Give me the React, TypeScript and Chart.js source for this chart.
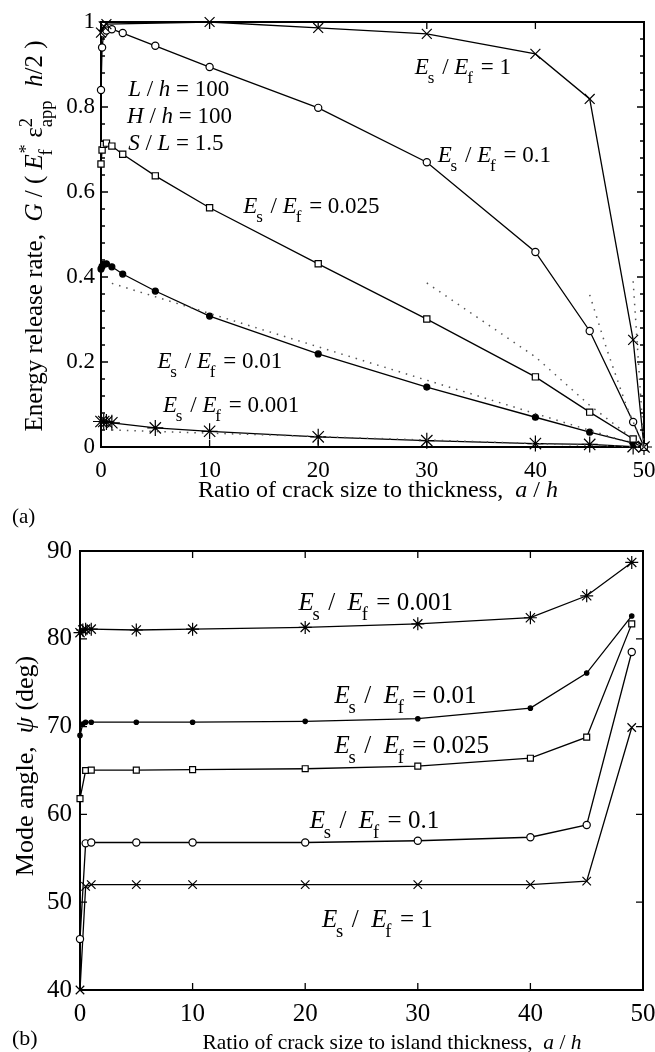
import React, { useEffect, useRef } from 'react';
import { Chart, registerables } from 'chart.js';

Chart.register(...registerables);

const FONT = "'Liberation Serif', 'Times New Roman', Times, serif";

// ---------- Panel (a): energy release rate ----------
const aX1 = [0, 0.25, 0.5, 10, 20, 30, 40, 45, 49, 50];
const aY1 = [0.975, 0.99, 0.995, 1.0, 0.986, 0.972, 0.925, 0.819, 0.252, 0];
const aX01 = [0, 0.1, 0.25, 0.5, 1, 2, 5, 10, 20, 30, 40, 45, 49, 50];
const aY01 = [0.84, 0.94, 0.973, 0.98, 0.983, 0.974, 0.944, 0.894, 0.798, 0.67, 0.459, 0.273, 0.059, 0];
const aX0025 = [0, 0.1, 0.25, 0.5, 1, 2, 5, 10, 20, 30, 40, 45, 49, 50];
const aY0025 = [0.666, 0.699, 0.712, 0.715, 0.708, 0.689, 0.638, 0.563, 0.431, 0.301, 0.165, 0.082, 0.019, 0];
const aX001 = [0, 0.1, 0.25, 0.5, 1, 2, 5, 10, 20, 30, 40, 45, 49, 50];
const aY001 = [0.419, 0.425, 0.43, 0.431, 0.424, 0.407, 0.367, 0.308, 0.219, 0.141, 0.07, 0.035, 0.009, 0];
const aX0001 = [0, 0.25, 0.5, 1, 5, 10, 20, 30, 40, 45, 49, 50];
const aY0001 = [0.06, 0.06, 0.059, 0.057, 0.045, 0.037, 0.024, 0.015, 0.008, 0.006, 0.001, 0];

// dotted (approximate) curves
const dX001 = [1, 50];
const dY001 = [0.385, 0];
const dX0001 = [1, 50];
const dY0001 = [0.04, 0];
const dX0025 = [30, 40, 45, 50];
const dY0025 = [0.386, 0.212, 0.098, 0];
const dX01 = [45, 46.6, 48.4, 50];
const dY01 = [0.358, 0.228, 0.095, 0];
const dX1 = [49, 50];
const dY1 = [0.39, 0];

const aXTicks = [0, 10, 20, 30, 40, 50];
const aYTicks = [0, 0.2, 0.4, 0.6, 0.8, 1];

// ---------- Panel (b): mode angle ----------
const bX0001 = [0, 0.25, 0.5, 1, 5, 10, 20, 30, 40, 45, 49];
const bY0001 = [80.7, 81.0, 81.1, 81.1, 81.0, 81.1, 81.3, 81.7, 82.4, 84.9, 88.7];
const bX001 = [0, 0.25, 0.5, 1, 5, 10, 20, 30, 40, 45, 49];
const bY001 = [69.0, 70.3, 70.5, 70.5, 70.5, 70.5, 70.6, 70.9, 72.1, 76.1, 82.6];
const bX0025 = [0, 0.5, 1, 5, 10, 20, 30, 40, 45, 49];
const bY0025 = [61.8, 65.0, 65.05, 65.05, 65.1, 65.2, 65.5, 66.4, 68.8, 81.7];
const bX01 = [0, 0.5, 1, 5, 10, 20, 30, 40, 45, 49];
const bY01 = [45.8, 56.7, 56.8, 56.8, 56.8, 56.8, 57.0, 57.4, 58.8, 78.5];
const bX1 = [0, 0.5, 1, 5, 10, 20, 30, 40, 45, 49];
const bY1 = [40, 51.8, 52.0, 52.0, 52.0, 52.0, 52.0, 52.0, 52.4, 69.9];

const bXTicks = [0, 10, 20, 30, 40, 50];
const bYTicks = [40, 50, 60, 70, 80, 90];

// ---------- rich text ----------
type Seg = { t: string; it?: boolean; sub?: string; sup?: string };

function fontOf(it: boolean, size: number) {
  return `${it ? 'italic ' : ''}${size}px ${FONT}`;
}

function drawRich(
  ctx: CanvasRenderingContext2D,
  segs: Seg[],
  x: number,
  y: number,
  size: number,
  align: 'left' | 'center' = 'left'
) {
  const small = size * 0.74;
  const widths = segs.map((s) => {
    ctx.font = fontOf(!!s.it, size);
    let w = ctx.measureText(s.t).width;
    if (s.sub || s.sup) {
      ctx.font = fontOf(false, small);
      const ws = s.sub ? ctx.measureText(s.sub).width : 0;
      const wp = s.sup ? ctx.measureText(s.sup).width : 0;
      w += Math.max(ws, wp) + size * 0.04;
    }
    return w;
  });
  const total = widths.reduce((p, c) => p + c, 0);
  let cx = align === 'center' ? x - total / 2 : x;
  ctx.textAlign = 'left';
  ctx.textBaseline = 'alphabetic';
  ctx.fillStyle = '#000';
  segs.forEach((s, i) => {
    ctx.font = fontOf(!!s.it, size);
    ctx.fillText(s.t, cx, y);
    const bw = ctx.measureText(s.t).width;
    ctx.font = fontOf(false, small);
    if (s.sub) ctx.fillText(s.sub, cx + bw - (s.it ? size * 0.05 : 0), y + size * 0.4);
    if (s.sup) ctx.fillText(s.sup, cx + bw + (s.it ? size * 0.03 : 0), y - size * 0.42);
    cx += widths[i];
  });
}

const ratio = (val: string, wide = false): Seg[] => [
  { t: 'E', it: true, sub: 's' },
  { t: wide ? ' /  ' : ' / ' },
  { t: 'E', it: true, sub: 'f' },
  { t: ' = ' + val },
];

type Note = { x: number; y: number; segs: Seg[] };

type PanelCfg = {
  xTicks: number[];
  yTicks: number[];
  yMinorStep: number;
  tickLen: number;
  minorLen: number;
  frameW: number;
  notes: Note[];
  noteSize: number;
  xTitle: Seg[];
  xTitleX: number;
  xTitleY: number;
  xTitleSize: number;
  yTitle: Seg[];
  yTitleX: number;
  yTitleY: number;
  yTitleSize: number;
  label: string;
  labelX: number;
  labelY: number;
  labelSize: number;
};

function makePlugin(cfg: PanelCfg) {
  return {
    id: 'decor',
    beforeDatasetsDraw(chart: any) {
      const { ctx, chartArea: ca, scales } = chart;
      const xs = scales.x;
      const ys = scales.y;
      ctx.save();
      ctx.strokeStyle = '#000';
      ctx.lineWidth = 1.3;
      ctx.beginPath();
      cfg.xTicks.forEach((v) => {
        const px = xs.getPixelForValue(v);
        ctx.moveTo(px, ca.bottom);
        ctx.lineTo(px, ca.bottom - cfg.tickLen);
        ctx.moveTo(px, ca.top);
        ctx.lineTo(px, ca.top + cfg.tickLen);
      });
      cfg.yTicks.forEach((v) => {
        const py = ys.getPixelForValue(v);
        ctx.moveTo(ca.left, py);
        ctx.lineTo(ca.left + cfg.tickLen, py);
        ctx.moveTo(ca.right, py);
        ctx.lineTo(ca.right - cfg.tickLen, py);
      });
      if (cfg.yMinorStep > 0) {
        const lo = cfg.yTicks[0];
        const hi = cfg.yTicks[cfg.yTicks.length - 1];
        const n = Math.round((hi - lo) / cfg.yMinorStep);
        for (let i = 1; i < n; i++) {
          const py = ys.getPixelForValue(lo + i * cfg.yMinorStep);
          ctx.moveTo(ca.left, py);
          ctx.lineTo(ca.left + cfg.minorLen, py);
          ctx.moveTo(ca.right, py);
          ctx.lineTo(ca.right - cfg.minorLen, py);
        }
      }
      ctx.stroke();
      ctx.lineWidth = cfg.frameW;
      ctx.strokeRect(ca.left, ca.top, ca.right - ca.left, ca.bottom - ca.top);
      ctx.restore();
    },
    afterDraw(chart: any) {
      const { ctx, scales } = chart;
      const xs = scales.x;
      const ys = scales.y;
      ctx.save();
      cfg.notes.forEach((n) =>
        drawRich(ctx, n.segs, xs.getPixelForValue(n.x), ys.getPixelForValue(n.y), cfg.noteSize)
      );
      drawRich(ctx, cfg.xTitle, cfg.xTitleX, cfg.xTitleY, cfg.xTitleSize, 'center');
      ctx.save();
      ctx.translate(cfg.yTitleX, cfg.yTitleY);
      ctx.rotate(-Math.PI / 2);
      drawRich(ctx, cfg.yTitle, 0, 0, cfg.yTitleSize, 'center');
      ctx.restore();
      ctx.font = fontOf(false, cfg.labelSize);
      ctx.fillStyle = '#000';
      ctx.textAlign = 'left';
      ctx.textBaseline = 'alphabetic';
      ctx.fillText(cfg.label, cfg.labelX, cfg.labelY);
      ctx.restore();
    },
  };
}

const pts = (xs: number[], ys: number[]) => xs.map((x, i) => ({ x, y: ys[i] }));

const line = (xs: number[], ys: number[], style: any) => ({
  data: pts(xs, ys),
  showLine: true,
  borderColor: '#000',
  borderWidth: 1.3,
  pointBorderColor: '#000',
  pointBorderWidth: 1.2,
  tension: 0,
  fill: false,
  clip: false,
  ...style,
});

const dotted = (xs: number[], ys: number[]) => ({
  data: pts(xs, ys),
  showLine: true,
  borderColor: '#555',
  borderWidth: 1.5,
  borderDash: [1.5, 6],
  pointRadius: 0,
  tension: 0,
  fill: false,
  clip: false,
});

function axisOpts(
  min: number,
  max: number,
  step: number,
  size: number,
  pad: number,
  fit: (s: any) => void
) {
  return {
    type: 'linear' as const,
    min,
    max,
    ticks: {
      stepSize: step,
      font: { family: FONT, size },
      color: '#000',
      padding: pad,
      callback: (v: any) => String(Number(Number(v).toFixed(3))),
    },
    grid: { display: false, drawTicks: false },
    border: { display: false },
    afterFit: (s: any) => {
      fit(s);
      s.paddingLeft = 0;
      s.paddingRight = 0;
      s.paddingTop = 0;
      s.paddingBottom = 0;
    },
  };
}

function Panel({ height, build }: { height: number; build: () => any }) {
  const ref = useRef<HTMLCanvasElement>(null);
  useEffect(() => {
    if (!ref.current) return;
    const chart = new Chart(ref.current, build());
    return () => chart.destroy();
  }, []);
  return <canvas ref={ref} width={655} height={height} style={{ display: 'block' }} />;
}

const buildA = () => {
  const cfg: PanelCfg = {
    xTicks: aXTicks,
    yTicks: aYTicks,
    yMinorStep: 0.04,
    tickLen: 7,
    minorLen: 4,
    frameW: 2,
    noteSize: 23,
    notes: [
      { x: 28.9, y: 0.878, segs: ratio('1') },
      { x: 31.0, y: 0.671, segs: ratio('0.1') },
      { x: 13.1, y: 0.551, segs: ratio('0.025') },
      { x: 5.2, y: 0.186, segs: ratio('0.01') },
      { x: 5.7, y: 0.082, segs: ratio('0.001') },
      { x: 2.5, y: 0.826, segs: [{ t: 'L', it: true }, { t: ' / ' }, { t: 'h', it: true }, { t: ' = 100' }] },
      { x: 2.4, y: 0.762, segs: [{ t: 'H', it: true }, { t: ' / ' }, { t: 'h', it: true }, { t: ' = 100' }] },
      { x: 2.5, y: 0.699, segs: [{ t: 'S', it: true }, { t: ' / ' }, { t: 'L', it: true }, { t: ' = 1.5' }] },
    ],
    xTitle: [{ t: 'Ratio of crack size to thickness,  ' }, { t: 'a', it: true }, { t: ' / ' }, { t: 'h', it: true }],
    xTitleX: 378,
    xTitleY: 497,
    xTitleSize: 24,
    yTitle: [
      { t: 'Energy release rate,  ' },
      { t: 'G', it: true },
      { t: ' / ( ' },
      { t: 'E', it: true, sup: '*', sub: 'f' },
      { t: ' ' },
      { t: 'ε', sup: '2', sub: 'app' },
      { t: '  ' },
      { t: 'h', it: true },
      { t: '/2 )' },
    ],
    yTitleX: 42,
    yTitleY: 236,
    yTitleSize: 25,
    label: '(a)',
    labelX: 12,
    labelY: 523,
    labelSize: 21,
  };
  return {
    type: 'scatter',
    data: {
      datasets: [
        dotted(dX001, dY001),
        dotted(dX0001, dY0001),
        dotted(dX0025, dY0025),
        dotted(dX01, dY01),
        dotted(dX1, dY1),
        line(aX1, aY1, { pointStyle: 'crossRot', pointRadius: 7 }),
        line(aX01, aY01, { pointStyle: 'circle', pointRadius: 3.6, pointBackgroundColor: '#fff' }),
        line(aX0025, aY0025, { pointStyle: 'rect', pointRadius: 4.4, pointBackgroundColor: '#fff' }),
        line(aX001, aY001, { pointStyle: 'circle', pointRadius: 3, pointBackgroundColor: '#000' }),
        line(aX0001, aY0001, { pointStyle: 'star', pointRadius: 8 }),
      ],
    },
    options: {
      animation: false,
      responsive: false,
      layout: { padding: { top: 22, right: 11, left: 0, bottom: 0 } },
      plugins: { legend: { display: false }, tooltip: { enabled: false } },
      scales: {
        x: axisOpts(0, 50, 10, 23, 10, (s: any) => { s.height = 93; }),
        y: axisOpts(0, 1, 0.2, 23, 6, (s: any) => { s.width = 101; }),
      },
    },
    plugins: [makePlugin(cfg)],
  };
};

const buildB = () => {
  const cfg: PanelCfg = {
    xTicks: bXTicks,
    yTicks: bYTicks,
    yMinorStep: 0,
    tickLen: 7,
    minorLen: 0,
    frameW: 2,
    noteSize: 25,
    notes: [
      { x: 19.4, y: 83.3, segs: ratio('0.001', true) },
      { x: 22.6, y: 72.7, segs: ratio('0.01', true) },
      { x: 22.6, y: 67.0, segs: ratio('0.025', true) },
      { x: 20.4, y: 58.45, segs: ratio('0.1', true) },
      { x: 21.5, y: 47.2, segs: ratio('1', true) },
    ],
    xTitle: [{ t: 'Ratio of crack size to island thickness,  ' }, { t: 'a', it: true }, { t: ' / ' }, { t: 'h', it: true }],
    xTitleX: 392,
    xTitleY: 509,
    xTitleSize: 21.5,
    yTitle: [{ t: 'Mode angle,  ' }, { t: 'ψ', it: true }, { t: ' (deg)' }],
    yTitleX: 33,
    yTitleY: 226,
    yTitleSize: 26,
    label: '(b)',
    labelX: 12,
    labelY: 505,
    labelSize: 22,
  };
  return {
    type: 'scatter',
    data: {
      datasets: [
        line(bX0001, bY0001, { pointStyle: 'star', pointRadius: 6.5 }),
        line(bX001, bY001, { pointStyle: 'circle', pointRadius: 2.2, pointBackgroundColor: '#000' }),
        line(bX0025, bY0025, { pointStyle: 'rect', pointRadius: 4.2, pointBackgroundColor: '#fff' }),
        line(bX01, bY01, { pointStyle: 'circle', pointRadius: 3.6, pointBackgroundColor: '#fff' }),
        line(bX1, bY1, { pointStyle: 'crossRot', pointRadius: 6 }),
      ],
    },
    options: {
      animation: false,
      responsive: false,
      layout: { padding: { top: 11, right: 12, left: 0, bottom: 0 } },
      plugins: { legend: { display: false }, tooltip: { enabled: false } },
      scales: {
        x: axisOpts(0, 50, 10, 25, 9, (s: any) => { s.height = 62; }),
        y: axisOpts(40, 90, 10, 25, 8, (s: any) => { s.width = 80; }),
      },
    },
    plugins: [makePlugin(cfg)],
  };
};

export default function App() {
  return (
    <div style={{ position: 'absolute', left: 0, top: 0, width: 655, height: 1052, background: '#fff' }}>
      <Panel height={540} build={buildA} />
      <Panel height={512} build={buildB} />
    </div>
  );
}
